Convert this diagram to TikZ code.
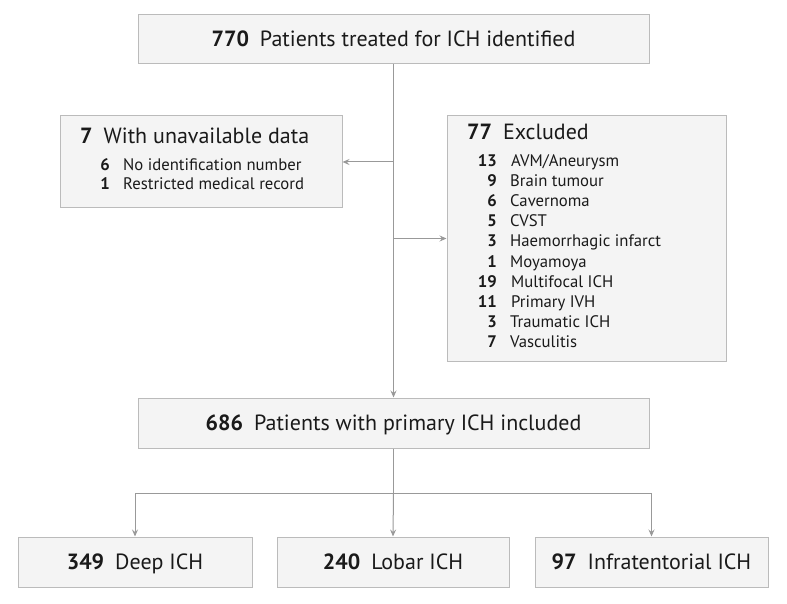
\documentclass[tikz,border=0pt]{standalone}
\usepackage{fontspec}
\setmainfont{PT Sans}
\usetikzlibrary{arrows.meta}
\definecolor{boxfill}{HTML}{F4F4F4}
\definecolor{boxline}{HTML}{BBBBBB}
\definecolor{linec}{HTML}{999999}
\definecolor{txt}{HTML}{1A1A1A}
\begin{document}
\begin{tikzpicture}[x=1pt,y=-1pt,
 box/.style={draw=boxline, fill=boxfill, line width=1pt, inner sep=0pt, text=txt},
 conn/.style={draw=linec, line width=1pt},
 arr/.style={conn, -{Stealth[length=7pt,width=6pt,inset=2.5pt]}},
 ttl/.style={font=\fontsize{22}{26}\selectfont, text=txt, inner sep=0pt},
 btxt/.style={text height=15pt, text depth=0pt},
 itm/.style={font=\fontsize{16.7}{20}\selectfont, text=txt, inner sep=0pt},
]
\useasboundingbox (0,0) rectangle (787,604);
\node[box, ttl, btxt, minimum width=511pt, minimum height=49pt] (top) at (393.5,39.5)
  {\textbf{770}\hspace{0.5em}Patients treated for ICH identified};
\node[box, minimum width=282pt, minimum height=92pt] (left) at (201,162) {};
\node[box, minimum width=279pt, minimum height=245pt] (excl) at (586.5,238.5) {};
\node[box, ttl, btxt, minimum width=511pt, minimum height=50pt] (incl) at (393.5,423)
  {\textbf{686}\hspace{0.5em}Patients with primary ICH included};
\node[box, ttl, btxt, minimum width=234pt, minimum height=50pt] (deep) at (135,562)
  {\textbf{349}\hspace{0.5em}Deep ICH};
\node[box, ttl, btxt, minimum width=232pt, minimum height=50pt] (lobar) at (393,562)
  {\textbf{240}\hspace{0.5em}Lobar ICH};
\node[box, ttl, btxt, minimum width=233pt, minimum height=50pt] (infra) at (651.5,562)
  {\textbf{97}\hspace{0.5em}Infratentorial ICH};
% left box text
\node[ttl, anchor=mid west] (lt) at (80,141) {\textbf{7}\hspace{0.5em}With unavailable data};
\node[itm, anchor=mid east] (ln1) at (110,168) {\textbf{6}};
\node[itm, anchor=mid west] (lt1) at (123,168) {No identification number};
\node[itm, anchor=mid east] (ln2) at (110,187.5) {\textbf{1}};
\node[itm, anchor=mid west] (lt2) at (123,187.5) {Restricted medical record};
% excluded box text
\node[ttl, anchor=mid west] (et) at (467,137) {\textbf{77}\hspace{0.5em}Excluded};
\node[itm, anchor=mid east] (en1) at (497,164) {\textbf{13}};
\node[itm, anchor=mid west] (et1) at (511,164) {AVM/Aneurysm};
\node[itm, anchor=mid east] (en2) at (497,184.1) {\textbf{9}};
\node[itm, anchor=mid west] (et2) at (510,184.1) {Brain tumour};
\node[itm, anchor=mid east] (en3) at (497,204.2) {\textbf{6}};
\node[itm, anchor=mid west] (et3) at (510,204.2) {Cavernoma};
\node[itm, anchor=mid east] (en4) at (497,224.3) {\textbf{5}};
\node[itm, anchor=mid west] (et4) at (510,224.3) {CVST};
\node[itm, anchor=mid east] (en5) at (497,244.4) {\textbf{3}};
\node[itm, anchor=mid west] (et5) at (510,244.4) {Haemorrhagic infarct};
\node[itm, anchor=mid east] (en6) at (497,264.5) {\textbf{1}};
\node[itm, anchor=mid west] (et6) at (510,264.5) {Moyamoya};
\node[itm, anchor=mid east] (en7) at (497,284.6) {\textbf{19}};
\node[itm, anchor=mid west] (et7) at (511,284.6) {Multifocal ICH};
\node[itm, anchor=mid east] (en8) at (497,304.7) {\textbf{11}};
\node[itm, anchor=mid west] (et8) at (511,304.7) {Primary IVH};
\node[itm, anchor=mid east] (en9) at (497,324.8) {\textbf{3}};
\node[itm, anchor=mid west] (et9) at (510,324.8) {Traumatic ICH};
\node[itm, anchor=mid east] (en10) at (497,344.9) {\textbf{7}};
\node[itm, anchor=mid west] (et10) at (510,344.9) {Vasculitis};
% connectors
\coordinate (b1) at (top.south |- left.east);
\coordinate (b2) at (top.south |- excl.west);
\coordinate (b3) at (incl.south |- 0,493);
\draw[arr] (top.south) -- (incl.north);
\draw[arr] (b1) -- (left.east);
\draw[arr] (b2) -- (excl.west);
\draw[conn] (incl.south) -- (b3);
\draw[arr] (b3) -- (lobar.north);
\draw[arr] (deep.north |- b3) -- (deep.north);
\draw[arr] (infra.north |- b3) -- (infra.north);
\draw[conn] (deep.north |- b3) -- (infra.north |- b3);
\end{tikzpicture}
\end{document}
